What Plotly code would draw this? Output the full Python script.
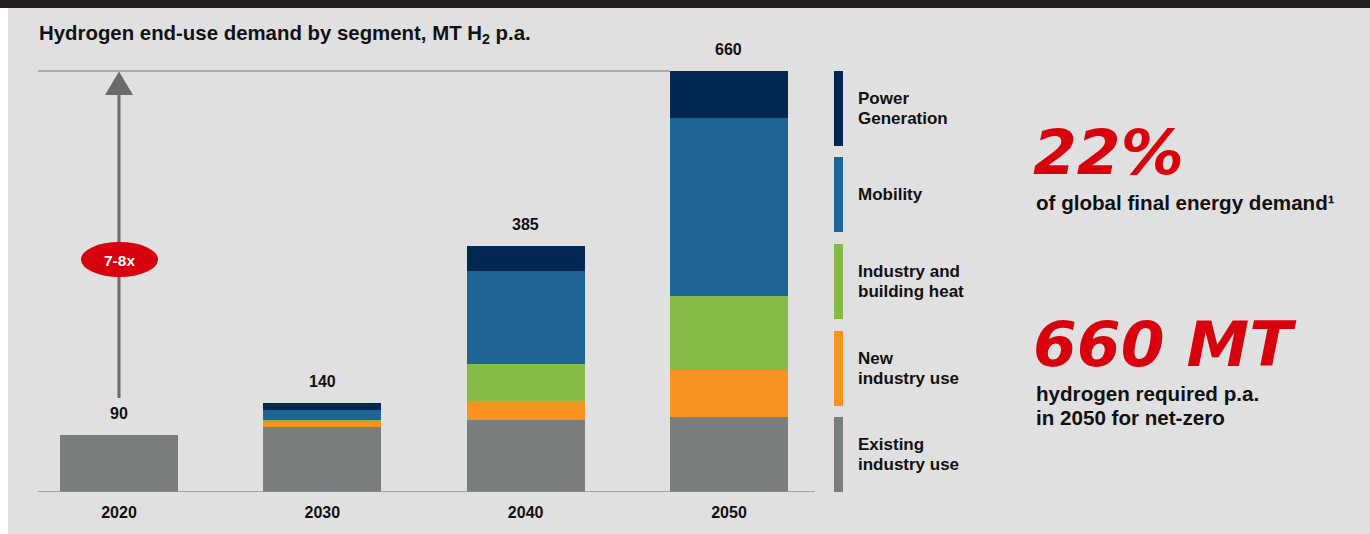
import plotly.graph_objects as go

W, H = 1370, 534

years = ["2020", "2030", "2040", "2050"]
segments = ["Existing industry use", "New industry use", "Industry and building heat", "Mobility", "Power Generation"]
legend_lines = [["Existing", "industry use"], ["New", "industry use"], ["Industry and", "building heat"],
                ["Mobility"], ["Power", "Generation"]]
existing = [90, 102, 113, 118]
new_use = [0, 7, 30, 74]
industry_heat = [0, 4, 58, 116]
mobility = [0, 15, 146, 279]
power = [0, 12, 38, 73]
totals_label = ["90", "140", "385", "660"]
colors = ["#7a7d7e", "#f7931e", "#84bb46", "#1e6495", "#002853"]

series = [existing, new_use, industry_heat, mobility, power]
totals = [sum(v) for v in zip(*series)]

FONT = "Liberation Sans, Arial, Helvetica, sans-serif"
BIG = "DejaVu Sans, sans-serif"

def px(x):
    return x / W

def py(y):
    return 1 - y / H

# axis geometry (pixels)
base_px = 492
top_px = 71
unit = (base_px - top_px) / 660.0
ymax = base_px / unit
c0, step = 119, 203.33
xmin = -c0 / step
xmax = (W - c0) / step

fig = go.Figure()
xs = list(range(len(years)))
for name, vals, col in zip(segments, series, colors):
    fig.add_trace(go.Bar(x=xs, y=vals, name=name, marker=dict(color=col, line=dict(width=0)),
                         width=118 / step, showlegend=False, hoverinfo="skip"))

shapes = []
shapes.append(dict(type="rect", xref="paper", yref="paper", x0=px(8), x1=1, y0=0, y1=py(8),
                   fillcolor="#e0e0e0", line=dict(width=0), layer="below"))
shapes.append(dict(type="rect", xref="paper", yref="paper", x0=0, x1=1, y0=py(8), y1=1,
                   fillcolor="#231f20", line=dict(width=0), layer="below"))
shapes.append(dict(type="line", xref="paper", yref="y", x0=px(38), x1=px(815), y0=0, y1=0,
                   line=dict(color="#8c8c8c", width=1.5)))
shapes.append(dict(type="line", xref="paper", yref="y", x0=px(38), x1=px(670), y0=totals[-1], y1=totals[-1],
                   line=dict(color="#9a9a9a", width=1.5), layer="below"))
shapes.append(dict(type="line", xref="paper", yref="paper", x0=px(119), x1=px(119), y0=py(398), y1=py(92),
                   line=dict(color="#6b6b6b", width=3)))
shapes.append(dict(type="path", xref="paper", yref="paper",
                   path=f"M {px(105)} {py(95)} L {px(133)} {py(95)} L {px(119)} {py(71.5)} Z",
                   fillcolor="#6b6b6b", line=dict(width=0)))
shapes.append(dict(type="circle", xref="paper", yref="paper", x0=px(81), x1=px(158), y0=py(277), y1=py(242),
                   fillcolor="#d9000d", line=dict(width=0)))
leg_top = [417, 331, 244, 157, 71]
for t, col in zip(leg_top, colors):
    shapes.append(dict(type="rect", xref="paper", yref="paper", x0=px(834), x1=px(843), y0=py(t + 75), y1=py(t),
                       fillcolor=col, line=dict(width=0)))

ann = []
def txt(text, x, y, size, color="#111111", anchor="left", family=FONT, style="normal"):
    ann.append(dict(text=text, xref="paper", yref="paper", x=px(x), y=py(y), xanchor=anchor,
                    yanchor="middle", showarrow=False, align="left",
                    font=dict(family=family, size=size, color=color, weight="bold", style=style)))

txt("Hydrogen end-use demand by segment, MT H<sub>2</sub> p.a.", 37, 34, 20.4)
for i, (t, lab) in enumerate(zip(totals, totals_label)):
    ann.append(dict(text=lab, x=i, y=t, xref="x", yref="y", xanchor="center", yanchor="bottom", yshift=11,
                    showarrow=False, font=dict(family=FONT, size=16, color="#111111", weight="bold")))
txt("7-8x", 119.5, 260, 15.5, color="white", anchor="center")
for t, lines in zip(leg_top, legend_lines):
    c = t + 37.5
    if len(lines) == 1:
        txt(lines[0], 856, c, 17)
    else:
        txt(lines[0], 856, c - 10, 17)
        txt(lines[1], 856, c + 10, 17)
txt("22%", 1031, 152, 63, color="#d9000d", family=BIG, style="italic")
txt("of global final energy demand¹", 1034, 203, 20.6)
txt("660 MT", 1031, 344, 63, color="#d9000d", family=BIG, style="italic")
txt("hydrogen required p.a.", 1034, 393, 20.6)
txt("in 2050 for net-zero", 1034, 417, 20.6)

fig.update_layout(
    width=W, height=H, margin=dict(l=0, r=0, t=0, b=0),
    paper_bgcolor="white", plot_bgcolor="rgba(0,0,0,0)",
    barmode="stack",
    xaxis=dict(range=[xmin, xmax], tickvals=xs, ticktext=years, showgrid=False, zeroline=False,
               showline=False, ticks="", ticklabelstandoff=9, automargin=False,
               tickfont=dict(family=FONT, size=16, color="#111111", weight="bold"), fixedrange=True),
    yaxis=dict(range=[0, ymax], domain=[(H - base_px) / H, 1], visible=False, automargin=False, fixedrange=True),
    shapes=shapes, annotations=ann, showlegend=False,
)
fig.write_html("out.html")
